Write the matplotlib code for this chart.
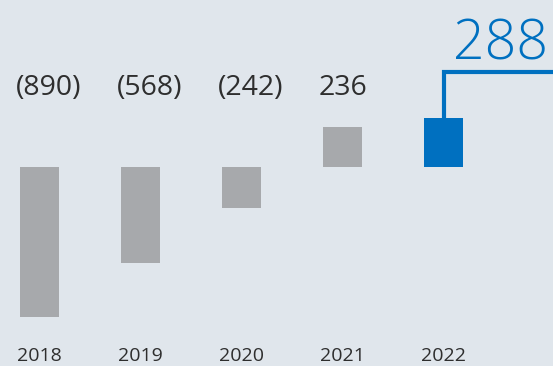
import matplotlib.pyplot as plt
import numpy as np

years = ["2018", "2019", "2020", "2021", "2022"]
values = [-890, -568, -242, 236, 288]
labels = ["(890)", "(568)", "(242)", "236", "288"]

bg = "#e0e6ec"
grey = "#a7a9ac"
blue = "#0070c0"
ink = "#2e2e2e"

plt.rcParams['font.family'] = ['Open Sans', 'DejaVu Sans']

W, H = 553, 366
fig = plt.figure(figsize=(W / 100, H / 100), dpi=100, facecolor=bg)
ax = fig.add_axes([0, 0, 1, 1], frameon=False)
ax.set_facecolor(bg)

# one bar step = 101 px, value scale = 0.1685 px per unit, baseline 167 px from top
step, vscale, base = 101.0, 0.1685, 167.0
x0 = 39.5
ax.set_xlim(-x0 / step, (W - x0) / step)
ax.set_ylim((base - H) / vscale, base / vscale)
ax.set_xticks([]), ax.set_yticks([])


def ypix(p):
    # pixel row from the top -> data value
    return (base - p) / vscale


x = np.arange(len(years))
bw = 39 / step
colors = [grey] * (len(years) - 1) + [blue]
ax.bar(x, values, width=bw, color=colors, linewidth=0)

# callout for the latest year
knee = ypix(72)
ax.plot([x[-1], x[-1], ax.get_xlim()[1]], [values[-1], knee, knee],
        color=blue, lw=3, solid_joinstyle='miter', solid_capstyle='butt')
ax.text(ax.get_xlim()[1] - 5 / step, ypix(60), labels[-1],
        ha='right', va='baseline', color=blue, fontsize=40, fontweight='light')

# value captions and year captions, flush with the bar's left edge
for i in range(len(years)):
    left = x[i] - bw / 2
    if i < len(years) - 1:
        ax.text(left - 4 / step, ypix(95), labels[i], ha='left', va='baseline',
                color=ink, fontsize=20.5)
    ax.text(left - 3 / step, ypix(361), years[i], ha='left', va='baseline',
            color=ink, fontsize=14)

fig.savefig("out.png", dpi=100, facecolor=bg)
